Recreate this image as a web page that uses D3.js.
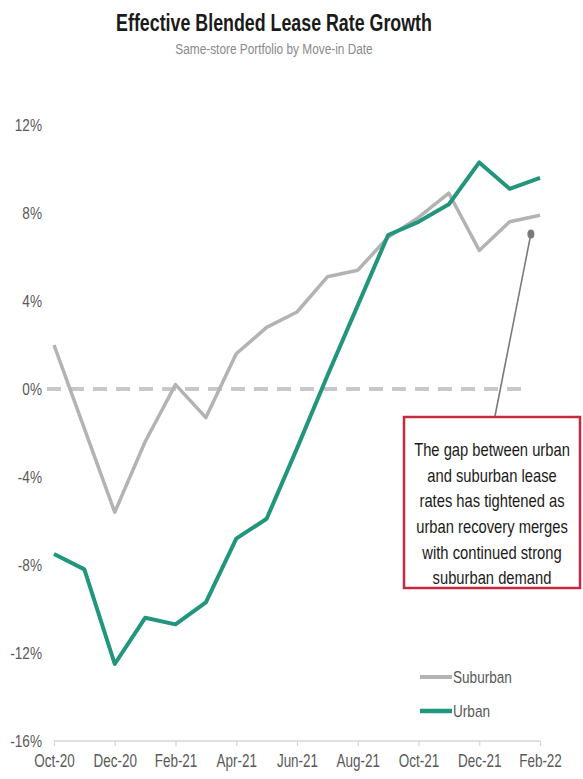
<!DOCTYPE html>
<html>
<head>
<meta charset="utf-8">
<script src="https://cdn.jsdelivr.net/npm/d3@7"></script>
<style>
  html, body { margin: 0; padding: 0; background: #fff; }
  svg { display: block; }
  text { font-family: "Liberation Sans", Arial, sans-serif; }
</style>
</head>
<body>
<svg id="chart" width="583" height="779"></svg>
<script>
// Monthly move-in cohorts, Oct-20 .. Feb-22
const months = ["Oct-20","Nov-20","Dec-20","Jan-21","Feb-21","Mar-21","Apr-21","May-21","Jun-21",
                "Jul-21","Aug-21","Sep-21","Oct-21","Nov-21","Dec-21","Jan-22","Feb-22"];
const tickMonths = ["Oct-20","Dec-20","Feb-21","Apr-21","Jun-21","Aug-21","Oct-21","Dec-21","Feb-22"];
// Effective blended lease rate growth, %
const suburban = [2.0, -1.8, -5.6, -2.4, 0.2, -1.3, 1.6, 2.8, 3.5, 5.1, 5.4, 6.9, 7.8, 8.9, 6.3, 7.6, 7.9];
const urban    = [-7.5, -8.2, -12.5, -10.4, -10.7, -9.7, -6.8, -5.9, -2.7, 0.6, 3.8, 7.0, 7.6, 8.4, 10.3, 9.1, 9.6];
const yTicks = [-16, -12, -8, -4, 0, 4, 8, 12];
const noteLines = ["The gap between urban", "and suburban lease", "rates has tightened as",
                   "urban recovery merges", "with continued strong", "suburban demand"];

const svg = d3.select("#chart");
const GRAY = "#b3b3b3", TEAL = "#22967c", LABEL = "#595959";
const NARROW = 0.8; // horizontal condensing for a narrow-style face

const x = d3.scalePoint().domain(months).range([54, 540]);
const y = d3.scaleLinear().domain([-16, 12]).range([741, 125]);
const xi = d3.scaleLinear().domain([0, months.length - 1]).range([54, 540]);

// Condensed text placed at (px, py)
function narrowText(parent, px, py, s) {
  return parent.append("g").attr("transform", `translate(${px},${py}) scale(${s},1)`)
    .append("text");
}

// Title block
narrowText(svg, 274, 31, 0.775).attr("text-anchor", "middle")
  .attr("font-size", 23).attr("font-weight", "bold").attr("fill", "#1a1a1a")
  .text("Effective Blended Lease Rate Growth");
narrowText(svg, 274, 54, 0.79).attr("text-anchor", "middle")
  .attr("font-size", 15).attr("fill", "#8a8a8a")
  .text("Same-store Portfolio by Move-in Date");

// Y axis labels (no line)
const yAxis = d3.axisLeft(y).tickValues(yTicks).tickSize(0).tickPadding(0)
  .tickFormat(d => d + "%");
const gy = svg.append("g").attr("transform", "translate(42,0)").call(yAxis);
gy.select(".domain").remove();
gy.selectAll("text").attr("font-size", 17).attr("fill", LABEL)
  .attr("font-family", "'Liberation Sans', Arial, sans-serif")
  .attr("transform", `scale(${NARROW},1)`);

// X axis along the bottom
const xAxis = d3.axisBottom(x).tickValues(tickMonths).tickSize(5).tickPadding(8);
const gx = svg.append("g").attr("transform", `translate(0,${y(-16)})`).call(xAxis);
gx.select(".domain").attr("stroke", "#d6d6d6").attr("stroke-width", 1.5)
  .attr("d", `M${x(months[0])},0H${x(months[months.length - 1])}`);
gx.selectAll(".tick line").attr("stroke", "#d6d6d6").attr("stroke-width", 1.2);
gx.selectAll("text").attr("font-size", 18).attr("fill", LABEL)
  .attr("font-family", "'Liberation Sans', Arial, sans-serif")
  .attr("transform", "scale(0.75,1)");

// Zero reference line
svg.append("line").attr("x1", 47).attr("x2", 530).attr("y1", y(0)).attr("y2", y(0))
  .attr("stroke", "#c8c8c8").attr("stroke-width", 4).attr("stroke-dasharray", "14,9");

// Series lines
const line = d3.line().x((d, i) => x(months[i])).y(d => y(d));
svg.append("path").datum(suburban).attr("d", line).attr("fill", "none")
  .attr("stroke", GRAY).attr("stroke-width", 3.5).attr("stroke-linejoin", "round");
svg.append("path").datum(urban).attr("d", line).attr("fill", "none")
  .attr("stroke", TEAL).attr("stroke-width", 4).attr("stroke-linejoin", "round");

// Callout connector and marker
const anchor = { i: 15.7, v: 7.05 };
svg.append("line").attr("x1", xi(anchor.i)).attr("y1", y(anchor.v))
  .attr("x2", 495).attr("y2", 416).attr("stroke", "#7a7a7a").attr("stroke-width", 1.6);
svg.append("ellipse").attr("cx", xi(anchor.i)).attr("cy", y(anchor.v))
  .attr("rx", 3.5).attr("ry", 4.5).attr("fill", "#7a7a7a");

// Callout box
svg.append("rect").attr("x", 404).attr("y", 417).attr("width", 176).attr("height", 171)
  .attr("fill", "#fff").attr("stroke", "#c8283f").attr("stroke-width", 2.5);
const note = narrowText(svg, 492, 0, 0.82).attr("text-anchor", "middle")
  .attr("font-size", 18).attr("fill", "#1a1a1a");
noteLines.forEach((t, k) => {
  note.append("tspan").attr("x", 0).attr("y", 456 + k * 25.7).text(t);
});

// Legend
const legend = [{ name: "Suburban", color: GRAY, w: 3.5 }, { name: "Urban", color: TEAL, w: 4 }];
legend.forEach((d, k) => {
  const ly = 677 + k * 34;
  svg.append("line").attr("x1", 420).attr("x2", 452).attr("y1", ly).attr("y2", ly)
    .attr("stroke", d.color).attr("stroke-width", d.w + 0.5);
  narrowText(svg, 453, ly, NARROW).attr("dy", "0.35em")
    .attr("font-size", 17).attr("fill", LABEL).text(d.name);
});
</script>
</body>
</html>
